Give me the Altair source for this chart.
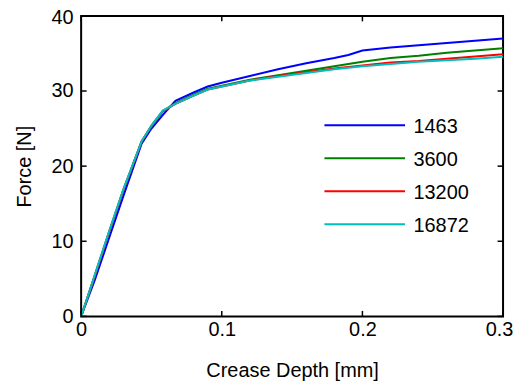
import altair as alt
import pandas as pd

# ---- data ----
depth = [0, 0.005, 0.01, 0.02, 0.03, 0.043, 0.05, 0.058, 0.067, 0.08, 0.09, 0.1,
         0.12, 0.14, 0.16, 0.18, 0.19, 0.2, 0.22, 0.24, 0.26, 0.28, 0.3]
names = ["1463", "3600", "13200", "16872"]
f1463 = [0, 2.5, 5.0, 10.5, 16.0, 23.0, 25.0, 26.8, 28.7, 29.8, 30.6, 31.1,
         32.0, 32.9, 33.7, 34.4, 34.8, 35.4, 35.8, 36.1, 36.4, 36.7, 37.0]
f3600 = [0, 2.8, 5.6, 11.3, 16.8, 23.3, 25.3, 27.3, 28.4, 29.5, 30.3, 30.7,
         31.5, 32.1, 32.7, 33.3, 33.6, 33.9, 34.4, 34.7, 35.1, 35.4, 35.7]
f13200 = [0, 2.8, 5.6, 11.3, 16.8, 23.3, 25.4, 27.3, 28.3, 29.4, 30.2, 30.6,
          31.4, 32.0, 32.5, 33.0, 33.2, 33.4, 33.8, 34.0, 34.3, 34.6, 34.9]
f16872 = [0, 2.8, 5.7, 11.4, 16.9, 23.3, 25.4, 27.4, 28.3, 29.4, 30.2, 30.6,
          31.4, 31.9, 32.4, 32.9, 33.1, 33.3, 33.6, 33.9, 34.1, 34.3, 34.55]
colors = ["#0000FF", "#008000", "#FF0000", "#00BFBF"]
xticks = [0, 0.1, 0.2, 0.3]
yticks = [0, 10, 20, 30, 40]

rows = []
for i, (n, ys) in enumerate(zip(names, [f1463, f3600, f13200, f16872])):
    for x, y in zip(depth, ys):
        rows.append({"depth": x, "force": y, "series": n, "k": i})
df = pd.DataFrame(rows)

W, H = 424, 302
FONT = "Liberation Sans"
XT = "Crease Depth [mm]"
YT = "Force [N]"
xs = alt.Scale(domain=[0, 0.3], nice=False, zero=False)
ysc = alt.Scale(domain=[0, 40], nice=False)
col = alt.Scale(domain=names, range=colors)

axis_common = dict(ticks=False, domain=False, grid=False, labelFont=FONT,
                   labelFontSize=20, labelColor="black", titleFont=FONT,
                   titleFontSize=20, titleFontWeight="normal", titleColor="black",
                   labelFlush=False, labelOverlap=False)

x_axis = alt.Axis(values=xticks, labelPadding=3,
                  labelExpr="datum.value == 0 ? '0' : format(datum.value, '.1f')",
                  labelOffset=alt.condition("datum.value > 0.25", alt.value(-4), alt.value(0)),
                  titleY=60.5, titleBaseline="alphabetic", **axis_common)

lines = alt.Chart(df).mark_line(strokeWidth=2).encode(
    x=alt.X("depth:Q", scale=xs, title=XT, axis=x_axis),
    y=alt.Y("force:Q", scale=ysc, title=YT,
            axis=alt.Axis(values=yticks, labelPadding=8, format="d",
                          labelOffset=alt.condition("datum.value > 35", alt.value(2), alt.value(0)),
                          titleX=-50.5, titleY=H / 2, titleAngle=270,
                          titleBaseline="alphabetic", titleAlign="center",
                          **axis_common)),
    color=alt.Color("series:N", scale=col, legend=None),
    detail="k:N",
)

tx = pd.DataFrame({"t": xticks})
ty = pd.DataFrame({"t": yticks})
tick_style = dict(color="black", strokeWidth=1.5)
xb = alt.Chart(tx).mark_rule(**tick_style).encode(
    x=alt.X("t:Q", scale=xs, title=XT, axis=x_axis), y=alt.value(H), y2=alt.value(H - 5.5))
xtp = alt.Chart(tx).mark_rule(**tick_style).encode(
    x=alt.X("t:Q", scale=xs, title=XT, axis=x_axis), y=alt.value(0), y2=alt.value(5.5))
yl = alt.Chart(ty).mark_rule(**tick_style).encode(
    y=alt.Y("t:Q", scale=ysc, title=YT, axis=None), x=alt.value(0), x2=alt.value(5.5))
yr = alt.Chart(ty).mark_rule(**tick_style).encode(
    y=alt.Y("t:Q", scale=ysc, title=YT, axis=None), x=alt.value(W), x2=alt.value(W - 5.5))

leg = pd.DataFrame({"series": names})
legy = alt.Y("series:N", sort=names, axis=None,
             scale=alt.Scale(type="point", domain=names, range=[110, 209.3], padding=0))
leg_lines = alt.Chart(leg).mark_rule(strokeWidth=2).encode(
    y=legy, x=alt.value(244.5), x2=alt.value(325.5),
    color=alt.Color("series:N", scale=col, legend=None))
leg_text = alt.Chart(leg).mark_text(align="left", baseline="middle", font=FONT,
                                    fontSize=20, color="black", dy=2).encode(
    y=legy, x=alt.value(334), text="series:N")

chart = alt.layer(lines, xb, xtp, yl, yr, leg_lines, leg_text).resolve_scale(
    y="independent"
).properties(
    width=W, height=H,
    background="white",
    autosize=alt.AutoSizeParams(type="none"),
    padding={"left": 73.5, "top": 7, "right": 10, "bottom": 64},
).configure_view(stroke="black", strokeWidth=2)

chart.save("out.html", embed_options={"renderer": "svg", "actions": False})
